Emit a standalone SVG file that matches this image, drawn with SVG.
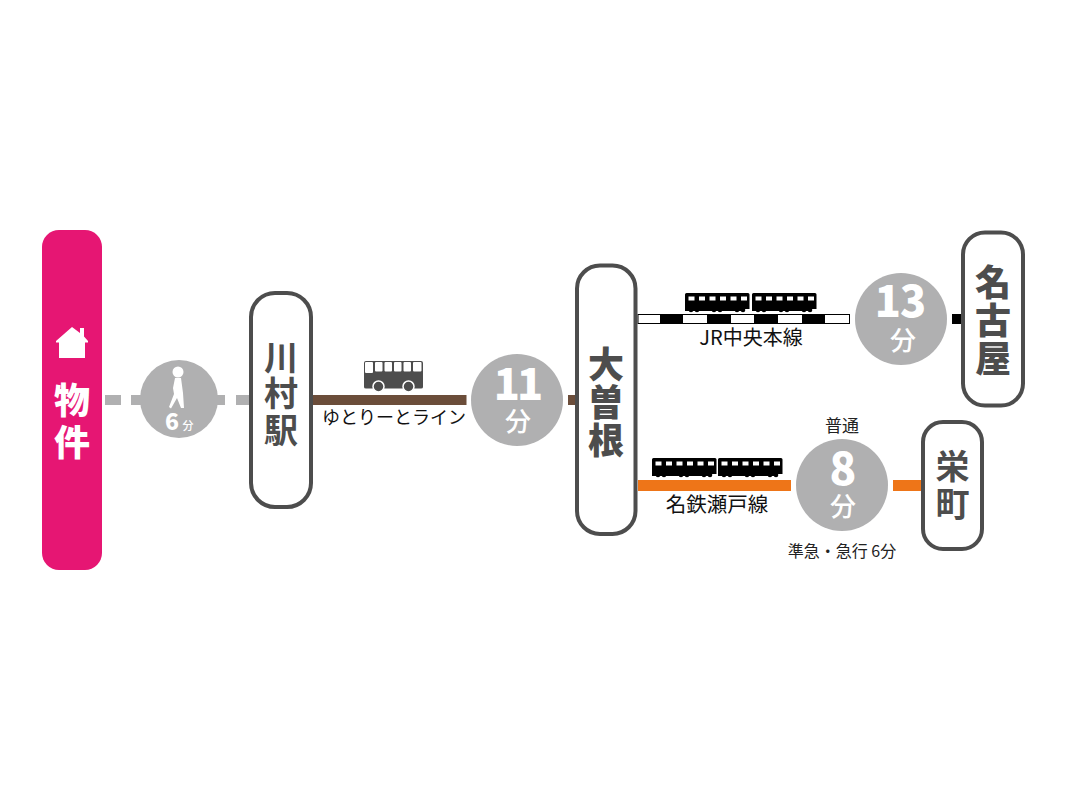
<svg xmlns="http://www.w3.org/2000/svg" width="1067" height="800" viewBox="0 0 1067 800">
<style>
text{font-family:"Noto Sans CJK JP","Noto Sans",sans-serif;text-anchor:middle}
.v{writing-mode:vertical-rl;text-orientation:upright}
.st{fill:#fff;stroke:#4d4d4d;stroke-width:4}
.sn{fill:#4d4d4d;font-size:34px;font-weight:700}
.snb{fill:#4d4d4d;font-size:36px;font-weight:900}
.c{fill:#b0b0b1}
.num{fill:#fff;font-weight:900;font-size:43px}
.fun{fill:#fff;font-size:26px;font-weight:500;letter-spacing:0}
.lb{fill:#111;font-size:20px}
.lbs{fill:#222;font-size:17px}
</style>
<defs>
<g id="car">
<path d="M0 1.500Q0 0 1.500 0H63Q64.500 0 64.500 1.500V16H59V18H0Z" fill="#000"/>
<g fill="#000"><circle cx="6" cy="17" r="2.300"/><circle cx="12" cy="17" r="2.300"/><circle cx="29" cy="17" r="2.300"/><circle cx="35" cy="17" r="2.300"/><circle cx="52" cy="17" r="2.300"/><circle cx="58" cy="17" r="2.300"/></g>
<g fill="#fff"><rect x="3.500" y="3.500" width="6" height="4"/><rect x="14" y="3.500" width="6" height="4"/><rect x="24.500" y="3.500" width="6" height="4"/><rect x="35" y="3.500" width="6" height="4"/><rect x="45.500" y="3.500" width="6" height="4"/><rect x="56" y="3.500" width="6" height="4"/></g>
</g>
</defs>
<rect width="1067" height="800" fill="#fff"/>
<g id="connectors">
<rect x="105" y="395" width="16" height="10" fill="#b0b0b1"/>
<rect x="131" y="395" width="12" height="10" fill="#b0b0b1"/>
<rect x="214" y="395" width="11" height="10" fill="#b0b0b1"/>
<rect x="236" y="395" width="14" height="10" fill="#b0b0b1"/>
<rect x="313" y="395" width="153.500" height="10" fill="#6b4d3a"/>
<rect x="568" y="395" width="8" height="10" fill="#6b4d3a"/>
<rect x="638" y="314.500" width="211.500" height="9" fill="#fff" stroke="#000" stroke-width="1"/>
<g fill="#000"><rect x="660" y="314" width="23" height="10"/><rect x="707" y="314" width="24" height="10"/><rect x="754" y="314" width="24" height="10"/><rect x="802" y="314" width="23" height="10"/></g>
<rect x="952" y="314" width="10" height="10" fill="#000"/>
<rect x="638" y="480" width="153" height="11" fill="#ee7518"/>
<rect x="893" y="480" width="28" height="11" fill="#ee7518"/>
</g>
<g id="bukken">
<rect x="42" y="230" width="60" height="340" rx="17" fill="#e61673"/>
<path d="M72 327L80 333V328H84V336.500L88 341L88 342.500H85V358H59V342.500H56V341Z" fill="#fff"/>
<text class="v" x="72" y="424" font-size="36" font-weight="900" fill="#fff" letter-spacing="6">物件</text>
</g>
<g id="walk">
<circle class="c" cx="179" cy="399" r="39"/>
<circle cx="178" cy="372" r="5.500" fill="#fff"/>
<path d="M175 378H181L183 393L184 408H181L177 398L171 408.500L169 407L174 394L173 388Z" fill="#fff"/>
<text x="172" y="430" font-size="23" font-weight="900" fill="#fff">6</text>
<text x="188" y="430" font-size="11" font-weight="500" fill="#fff">分</text>
</g>
<g id="kawamura">
<rect class="st" x="251" y="293" width="60" height="214" rx="24"/>
<text class="v sn" x="281" y="394.500" letter-spacing="2.500">川村駅</text>
</g>
<g id="bus">
<path d="M366 361H421Q423 361 423 363V387Q423 388.500 421 388.500H366Q364 388.500 364 387V363Q364 361 366 361Z" fill="#4d4d4d"/>
<g fill="#fff"><rect x="365" y="362" width="8" height="11" rx="1"/><rect x="375" y="362" width="7.500" height="9.500" rx="1"/><rect x="384.500" y="362" width="7.500" height="9.500" rx="1"/><rect x="394" y="362" width="7.500" height="9.500" rx="1"/><rect x="403.500" y="362" width="7.500" height="9.500" rx="1"/><rect x="413" y="362" width="8.500" height="9.500" rx="1"/></g>
<circle cx="378.500" cy="386.500" r="5.500" fill="#4d4d4d" stroke="#fff" stroke-width="1.500"/>
<circle cx="408.500" cy="386.500" r="5.500" fill="#4d4d4d" stroke="#fff" stroke-width="1.500"/>
</g>
<text class="lb" x="394" y="424" style="font-size:18px">ゆとりーとライン</text>
<g id="t11">
<circle class="c" cx="517" cy="400" r="46"/>
<text><tspan class="num" x="517" y="400" letter-spacing="-3">11</tspan><tspan class="fun" x="518" y="431">分</tspan></text>
</g>
<g id="ozone">
<rect class="st" x="577" y="265.500" width="58.500" height="268.500" rx="23"/>
<text class="v snb" x="606" y="403" letter-spacing="2">大曽根</text>
</g>
<use href="#car" x="685" y="293"/>
<use href="#car" x="752" y="293"/>
<text class="lb" x="751" y="345">JR中央本線</text>
<g id="t13">
<circle class="c" cx="901" cy="319" r="46"/>
<text><tspan class="num" x="900" y="317" letter-spacing="-1">13</tspan><tspan class="fun" x="903" y="350">分</tspan></text>
</g>
<g id="nagoya">
<rect class="st" x="963" y="232.500" width="60" height="173" rx="22"/>
<text class="v snb" x="993" y="321" letter-spacing="2">名古屋</text>
</g>
<use href="#car" x="652" y="458"/>
<use href="#car" x="718" y="458"/>
<text class="lb" x="717" y="512" style="font-size:20.500px">名鉄瀬戸線</text>
<text class="lbs" x="842" y="432">普通</text>
<g id="t8">
<circle class="c" cx="842" cy="485" r="46"/>
<text><tspan class="num" x="843" y="485" style="font-size:44px">8</tspan><tspan class="fun" x="843" y="516">分</tspan></text>
</g>
<text class="lbs" x="842" y="557" style="font-size:16px">準急・急行 6分</text>
<g id="sakae">
<rect class="st" x="923" y="422" width="59" height="127" rx="20"/>
<text class="v sn" x="952.500" y="487" letter-spacing="4">栄町</text>
</g>
</svg>
